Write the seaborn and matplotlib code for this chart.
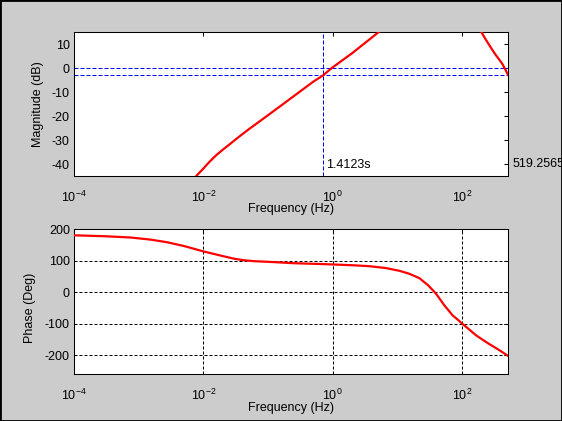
import matplotlib
matplotlib.use("Agg")
import matplotlib.pyplot as plt
import matplotlib.ticker as mticker
from matplotlib.patches import Rectangle
import seaborn as sns
import pandas as pd

# ---- data ----
mag_freq = [0.00708, 0.00782, 0.00891, 0.0100, 0.0112, 0.0126, 0.0158, 0.0200,
            0.0251, 0.0316, 0.0398, 0.0520, 0.100, 0.170, 0.316, 0.501, 0.708,
            0.955, 2.00, 4.97, 6.31, 31.6, 100.0, 200.0, 229.0, 263.0, 295.0,
            333.0, 376.0, 422.0, 468.0, 519.2565]
mag_db = [-47.0, -44.9, -43.3, -41.9, -40.4, -38.9, -36.3, -34.0,
          -31.9, -29.7, -27.6, -25.2, -19.6, -15.0, -9.6, -5.6, -3.0,
          0.0, 6.3, 14.8, 17.0, 28.0, 27.0, 15.0, 12.3, 9.7, 7.6,
          5.5, 3.6, 1.7, -0.6, -3.0]

ph_freq = [1e-4, 3.09e-4, 7.5e-4, 1.51e-3, 2.75e-3, 5.01e-3, 1e-2, 1.66e-2,
           2.95e-2, 4.17e-2, 6.03e-2, 0.123, 0.248, 0.746, 2.04, 3.70, 6.68, 8.51,
           10.7, 12.6, 15.3, 18.2, 21.9, 25.1, 29.4, 39.5, 45.7, 53.1, 61.7,
           71.4, 85.1, 100.0, 126.0, 164.0, 200.0, 263.0, 355.0, 519.2565]
ph_deg = [181, 178, 174, 167.5, 159, 147, 130, 119,
          107, 102, 99, 96, 92.5, 89.5, 86, 83, 77, 72.6,
          68.5, 64.2, 59, 52.2, 45, 35, 24, -4, -22, -41, -57,
          -73, -86, -99, -116, -136, -148, -164, -180, -202]

x_ticks = [1e-4, 1e-2, 1e0, 1e2]
mag_yticks = [10, 0, -10, -20, -30, -40]
ph_yticks = [200, 100, 0, -100, -200]
f_cut_low = 1 / 1.4123
f_cut_high = 519.2565
low_label = "1.4123s"
high_label = "519.2565"

# ---- style ----
sns.set_theme(style="white")
plt.rcParams['font.family'] = ['Liberation Sans', 'DejaVu Sans']
plt.rcParams['axes.unicode_minus'] = False
plt.rcParams['mathtext.default'] = 'regular'

FS = 9
fig = plt.figure(figsize=(5.62, 4.21), dpi=100, facecolor='#cccccc')
ax1 = fig.add_axes([0.1317, 0.5819, 0.7728, 0.3413])
ax2 = fig.add_axes([0.1317, 0.1109, 0.7728, 0.3444])

df_mag = pd.DataFrame({"Frequency": mag_freq, "Magnitude": mag_db})
df_ph = pd.DataFrame({"Frequency": ph_freq, "Phase": ph_deg})

sns.lineplot(data=df_mag, x="Frequency", y="Magnitude", ax=ax1,
             color='red', lw=1.6, sort=False, zorder=3)
sns.lineplot(data=df_ph, x="Frequency", y="Phase", ax=ax2,
             color='red', lw=1.6, sort=False, zorder=3)

for ax in (ax1, ax2):
    ax.set_facecolor('white')
    ax.set_xscale('log')
    ax.set_xlim(1e-4, f_cut_high)
    ax.set_xticks(x_ticks)
    ax.xaxis.set_minor_locator(mticker.NullLocator())
    ax.tick_params(which='both', direction='in', top=True, right=True,
                   length=3, width=0.75, colors='black', labelsize=FS,
                   labelcolor='black')
    ax.tick_params(axis='x', pad=10)
    ax.tick_params(axis='y', pad=3)
    for s in ax.spines.values():
        s.set_color('black')
        s.set_linewidth(0.75)
    ax.set_xlabel("Frequency (Hz)", fontsize=FS, color='black')

ax1.set_ylim(-45, 15)
ax1.set_yticks(mag_yticks)
ax1.set_ylabel("Magnitude (dB)", fontsize=FS, color='black')
ax1.yaxis.set_label_coords(-0.068, 0.5)
ax1.xaxis.set_label_coords(0.5, -0.19)

ax2.set_ylim(-260, 200)
ax2.set_yticks(ph_yticks)
ax2.set_ylabel("Phase (Deg)", fontsize=FS, color='black')
ax2.yaxis.set_label_coords(-0.088, 0.457)
ax2.xaxis.set_label_coords(0.5, -0.19)

# blue reference lines on magnitude plot
blue_ls = (0, (4, 2))
ax1.axhline(0, color='blue', lw=0.72, ls=blue_ls, zorder=2)
ax1.axhline(-3, color='blue', lw=0.72, ls=blue_ls, zorder=2)
ax1.axvline(f_cut_low, color='blue', lw=0.72, ls=blue_ls, zorder=2)
ax1.annotate(low_label, xy=(f_cut_low, -40.3), xytext=(2.5, 0),
             textcoords='offset points', va='center', ha='left',
             fontsize=FS, color='black')
ax1.annotate(high_label, xy=(f_cut_high, -40.0), xytext=(3, 0),
             textcoords='offset points', va='center', ha='left',
             fontsize=FS, color='black', annotation_clip=False)

# grid on phase plot
ax2.grid(True, which='major', color='black', lw=0.72, ls=(0, (3, 2)))
ax2.set_axisbelow(False)

# window border
fig.add_artist(Rectangle((0, 0), 1, 1, transform=fig.transFigure, fill=False,
                         edgecolor='black', lw=2.0, zorder=10))

fig.savefig("out.png", dpi=100, facecolor=fig.get_facecolor())
